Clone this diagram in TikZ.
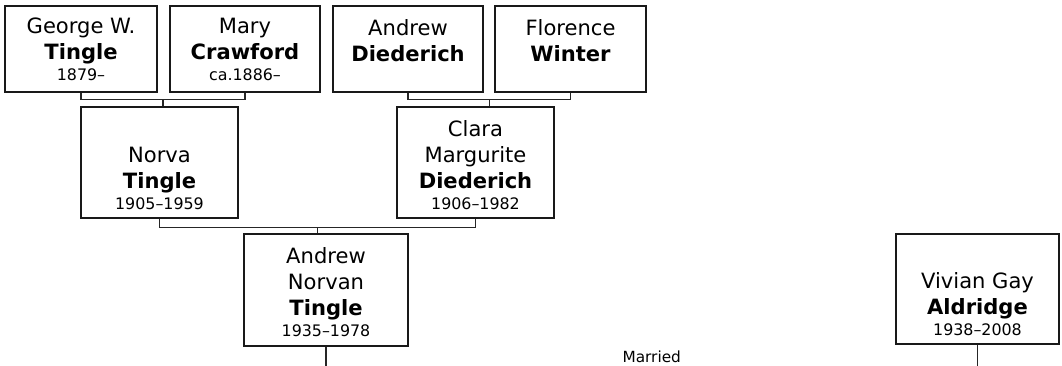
\documentclass[tikz,border=0pt]{standalone}
\usepackage{fontspec}
\setmainfont{DejaVu Sans}
\usetikzlibrary{fit,calc}
\newcommand{\yr}{\fontsize{11.9}{14}\selectfont}
\tikzset{
  person/.style={draw=black!90, line width=1.1pt, rectangle, inner sep=0pt},
  lbl/.style={align=center, inner sep=0pt, anchor=south, font=\fontsize{15.8}{19.5}\selectfont, text=black},
  link/.style={draw=black!85, line width=0.8pt},
  note/.style={inner sep=0pt, font=\fontsize{11.5}{14}\selectfont, text=black},
}
\begin{document}
\begin{tikzpicture}[x=0.75pt,y=-0.75pt]
\useasboundingbox (0,0) rectangle (1062,366);
% boxes
\node[person, fit={(5,6) (157,92)}] (george) {};
\node[person, fit={(170,6) (320,92)}] (mary) {};
\node[person, fit={(333,6) (483,92)}] (andrewd) {};
\node[person, fit={(495,6) (646,92)}] (florence) {};
\node[person, fit={(81,107) (238,218)}] (norva) {};
\node[person, fit={(397,107) (554,218)}] (clara) {};
\node[person, fit={(244,234) (408,346)}] (andrewn) {};
\node[person, fit={(896,234) (1059,344)}] (vivian) {};
% labels
\node[lbl] (georgeT) at ([yshift=9pt]george.south) {George W.\\\textbf{Tingle}\\[-4pt]{\yr 1879–}};
\node[lbl] (maryT) at ([yshift=9pt]mary.south) {Mary\\\textbf{Crawford}\\[-4pt]{\yr ca.1886–}};
\node[lbl] (andrewdT) at ([yshift=23.25pt]andrewd.south) {Andrew\\\textbf{Diederich}};
\node[lbl] (florenceT) at ([yshift=23.25pt]florence.south) {Florence\\\textbf{Winter}};
\node[lbl] (norvaT) at ([yshift=6.75pt]norva.south) {Norva\\\textbf{Tingle}\\[-4pt]{\yr 1905–1959}};
\node[lbl] (claraT) at ([yshift=6.75pt]clara.south) {Clara\\Margurite\\\textbf{Diederich}\\[-4pt]{\yr 1906–1982}};
\node[lbl] (andrewnT) at ([yshift=7.5pt]andrewn.south) {Andrew\\Norvan\\\textbf{Tingle}\\[-4pt]{\yr 1935–1978}};
\node[lbl] (vivianT) at ([yshift=6.5pt]vivian.south) {Vivian Gay\\\textbf{Aldridge}\\[-4pt]{\yr 1938–2008}};
% connectors
\coordinate (gm) at ($(george.south)!0.5!(mary.south)+(0,7)$);
\draw[link] (george.south) |- (gm) -| (mary.south);
\draw[link] (gm) -- (gm |- norva.north);
\coordinate (df) at ($(andrewd.south)!0.5!(florence.south)+(0,7)$);
\draw[link] (andrewd.south) |- (df) -| (florence.south);
\draw[link] (df) -- (df |- clara.north);
\coordinate (nc) at ($(norva.south)!0.5!(clara.south)+(0,9)$);
\draw[link] (norva.south) |- (nc) -| (clara.south);
\draw[link] (nc) -- (nc |- andrewn.north);
\coordinate (ae) at (andrewn.south |- 0,366);
\coordinate (ve) at (vivian.south |- 0,366);
\draw[link] (andrewn.south) -- (ae);
\draw[link] (vivian.south) -- (ve);
\node[note] (married) at ($(ae)!0.5!(ve)+(0,-9)$) {Married};
\end{tikzpicture}
\end{document}
